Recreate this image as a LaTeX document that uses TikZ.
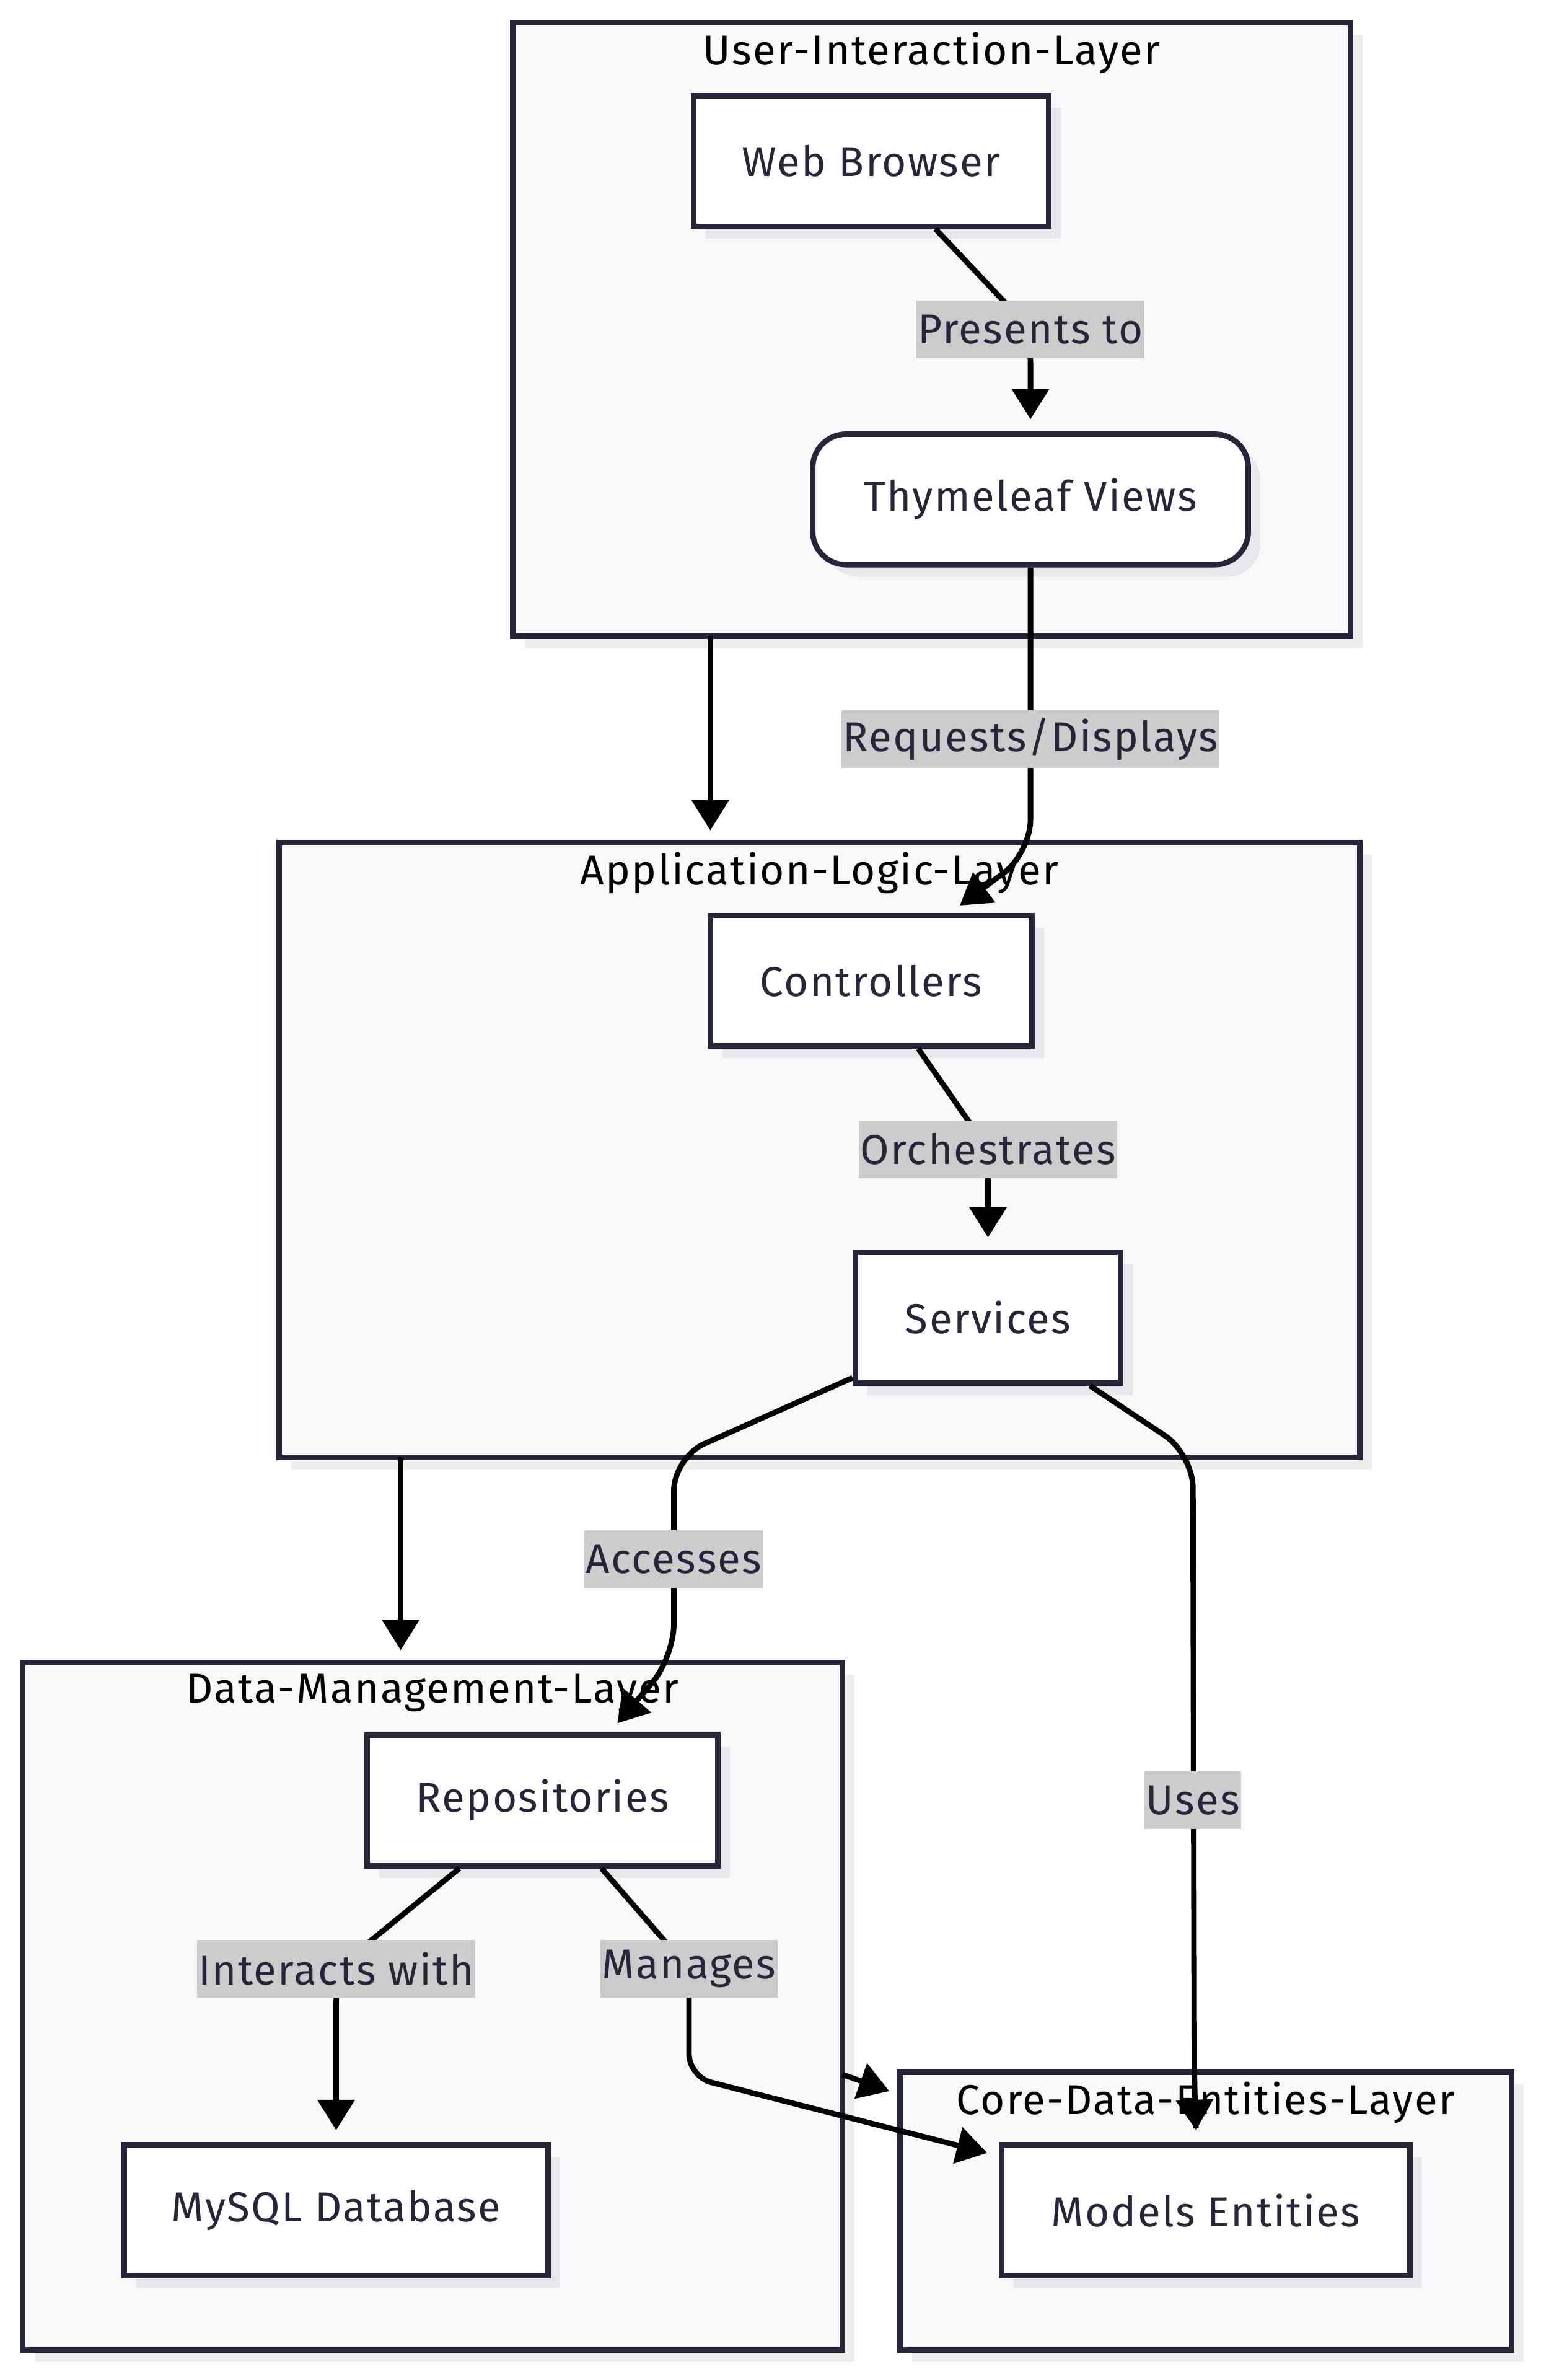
\documentclass[tikz,border=0pt]{standalone}
\usepackage{fontspec}
\setmainfont{Fira Sans}[LetterSpace=3.5]
\usetikzlibrary{arrows.meta,shadows}

\definecolor{navy}{RGB}{38,38,58}
\definecolor{layerfill}{RGB}{248,248,250}
\definecolor{lblgray}{RGB}{204,204,204}
\definecolor{nodeshade}{RGB}{232,232,236}
\definecolor{layershade}{RGB}{238,238,238}

\tikzset{
  every node/.style={font=\fontsize{27.5}{32}\selectfont},
  layer/.style={draw=navy,fill=layerfill,line width=3.6pt,inner sep=0pt,
    drop shadow={shadow xshift=8pt,shadow yshift=-8pt,fill=layershade,opacity=1}},
  layertitle/.style={text=black,inner sep=0pt},
  box/.style={draw=navy,fill=white,line width=3.6pt,text=navy,minimum height=86pt,inner sep=0pt,
    drop shadow={shadow xshift=8pt,shadow yshift=-8pt,fill=nodeshade,opacity=1}},
  lbl/.style={fill=lblgray,text=navy,minimum height=38pt,inner xsep=1pt,inner ysep=0pt},
  edge/.style={line width=3.6pt,-{Triangle[length=20pt,width=24pt]},rounded corners=22pt,shorten >=8pt},
}

\begin{document}
\begin{tikzpicture}[x=1pt,y=-1pt]
\fill[white] (0,0) rectangle (1015,1567.8);
\useasboundingbox (0,0) rectangle (1015,1567.8);

% layers
\node[layer,minimum width=552pt,minimum height=404pt] (ui) at (614,217) {};
\node[layer,minimum width=712pt,minimum height=405pt] (al) at (540,757.5) {};
\node[layer,minimum width=540pt,minimum height=453pt] (dm) at (285,1321.5) {};
\node[layer,minimum width=403pt,minimum height=183pt] (ce) at (794.5,1456.5) {};

\node[layertitle] (uiT) at (614,35) {User-Interaction-Layer};
\node[layertitle] (alT) at (540,575) {Application-Logic-Layer};
\node[layertitle] (dmT) at (285,1115) {Data-Management-Layer};
\node[layertitle] (ceT) at (794.5,1385) {Core-Data-Entities-Layer};

% components
\node[box,minimum width=234pt] (wb) at (574,106) {Web Browser};
\node[box,minimum width=287pt,rounded corners=22pt] (tv) at (679,329) {Thymeleaf Views};
\node[box,minimum width=212pt] (ctrl) at (574,646) {Controllers};
\node[box,minimum width=175pt] (svc) at (651,868) {Services};
\node[box,minimum width=231pt] (repo) at (357.5,1186) {Repositories};
\node[box,minimum width=279pt] (db) at (221.5,1456) {MySQL Database};
\node[box,minimum width=269pt] (me) at (794.5,1456) {Models Entities};

% label and bend points
\coordinate (presC) at (679,217);
\coordinate (reqC) at (679,487);
\coordinate (reqBend) at (679,562);
\coordinate (orchC) at (651,757);
\coordinate (accTop) at (444,960);
\coordinate (accC) at (444,1027);
\coordinate (accBot) at (444,1092);
\coordinate (usesTop) at (786,958);
\coordinate (usesC) at (786,1186);
\coordinate (usesBot) at (787,1380);
\coordinate (intC) at (221.5,1297);
\coordinate (manC) at (454,1297);
\coordinate (manBend) at (454,1368);
\coordinate (uiOut) at (468,419);
\coordinate (alIn) at (468,555);
\coordinate (alOut) at (264,960);
\coordinate (dmIn) at (264,1095);
\coordinate (dmOut) at (555,1366.5);
\coordinate (ceIn) at (586,1377.5);

% edges
\draw[edge] (uiOut) -- (alIn);
\draw[edge] (alOut) -- (dmIn);
\draw[edge,shorten >=0pt] (dmOut) -- (ceIn);
\draw[edge] (wb) -- (presC) -- (tv);
\draw[edge] (tv) -- (reqBend) -- ([xshift=52pt]ctrl.north);
\draw[edge] (ctrl) -- (orchC) -- (svc);
\draw[edge] (svc) -- (accTop) -- (accBot) -- ([xshift=44pt]repo.north);
\draw[edge] (svc) -- (usesTop) -- (usesBot) -- ([xshift=-6pt]me.north);
\draw[edge] (repo) -- (intC) -- (db);
\draw[edge,rounded corners=15pt] (repo) -- (manC) -- (manBend) -- ([yshift=-9pt]me.north west);

% edge labels
\node[lbl] at (presC) {Presents to};
\node[lbl] at (reqC) {Requests/Displays};
\node[lbl] at (orchC) {Orchestrates};
\node[lbl] at (accC) {Accesses};
\node[lbl] at (usesC) {Uses};
\node[lbl] at (intC) {Interacts with};
\node[lbl] at (manC) {Manages};
\end{tikzpicture}
\end{document}
